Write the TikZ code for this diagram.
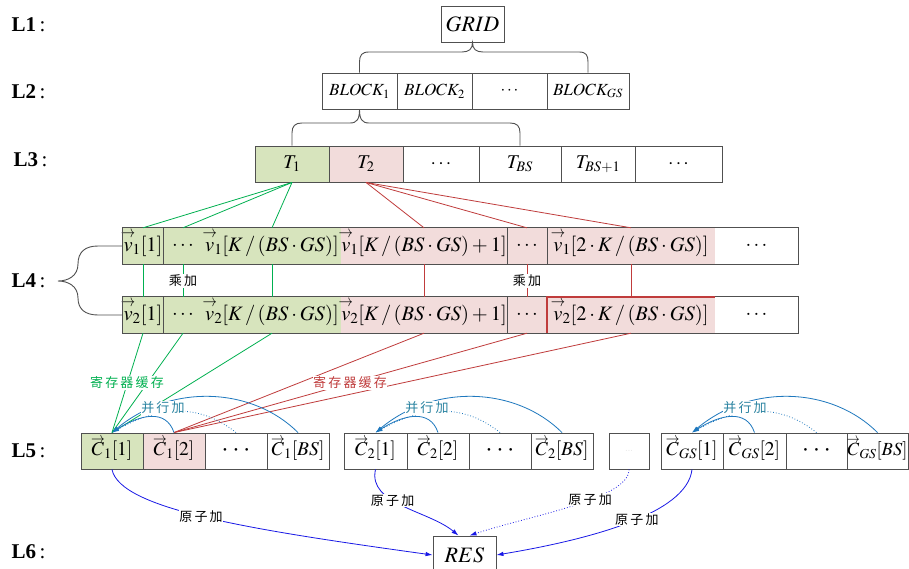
\documentclass[tikz,border=0pt]{standalone}
\usepackage{graphicx}
\usepackage{mathptmx}
\usepackage[no-math]{fontspec}
\setmainfont{Liberation Serif}
\newfontfamily\cjk{Noto Sans CJK SC}
\usetikzlibrary{arrows.meta}
\definecolor{gfill}{RGB}{215,228,189}
\definecolor{pfill}{RGB}{242,220,219}
\definecolor{bordc}{RGB}{80,80,80}
\definecolor{gline}{RGB}{0,176,80}
\definecolor{rline}{RGB}{192,60,60}
\definecolor{parc}{RGB}{30,120,190}
\definecolor{partc}{RGB}{40,130,160}
\definecolor{atomc}{RGB}{25,25,230}
\newcommand\vvec[1]{\mbox{\ooalign{$#1$\cr\hidewidth\raisebox{0.66em}{\resizebox{0.7em}{0.3em}{$\rightarrow$}}\hidewidth\cr}}}
\newcommand\fsz[1]{\fontsize{#1}{#1}\selectfont}
\tikzset{
  bord/.style={draw=bordc, line width=0.9pt},
  box/.style={bord, inner sep=0pt, minimum height=36pt, font=\fsz{19.5}},
  cell/.style={inner sep=0pt, minimum height=36pt, font=\fsz{20.5}},
  w/.style={minimum width=#1pt},
  lvl/.style={anchor=west, font=\fsz{21}},
  gl/.style={draw=gline, line width=0.8pt},
  rl/.style={draw=rline, line width=0.8pt},
  brace/.style={draw=bordc, line width=0.9pt},
  par/.style={draw=parc, line width=0.8pt, -{Latex[length=7pt,width=4pt]}},
  pardot/.style={par, dotted},
  atom/.style={draw=atomc, line width=0.8pt, -{Latex[length=7pt,width=4.5pt]}},
  atomdot/.style={atom, dotted},
  cjklab/.style={font=\cjk\fsz{13}, fill=white, inner sep=0.6pt},
}
\newcommand\dotsrow{{\fsz{11}\textbullet\hspace{7pt}\textbullet\hspace{7pt}\textbullet}}
\begin{document}
\begin{tikzpicture}[x=1pt,y=-1pt]
\useasboundingbox[fill=white] (0,0) rectangle (909,568);

% level labels
\node[lvl] (l1) at (8,25) {\textbf{L1}\,:};
\node[lvl] (l2) at (8,92) {\textbf{L2}\,:};
\node[lvl] (l3) at (10,160) {\textbf{L3}\,:};
\node[lvl] (l4) at (8,281) {\textbf{L4}\,:};
\node[lvl] (l5) at (8,451) {\textbf{L5}\,:};
\node[lvl] (l6) at (8,552) {\textbf{L6}\,:};

% L1
\node[box, w=63, font=\fsz{22}] (grid) at (472.5,24) {$GRID$};

% L2
\node[box, w=75, font=\fsz{17}] (b1) at (359.5,91) {$BLOCK_1$};
\node[box, w=75, font=\fsz{17}] (b2) at (434.5,91) {$BLOCK_2$};
\node[box, w=75, font=\fsz{17}] (b3) at (509.5,91) {$\cdots$};
\node[box, w=82, font=\fsz{17}] (b4) at (588,91) {$BLOCK_{GS}$};

% L3
\node[box, w=74, fill=gfill] (t1) at (292,164) {$T_1$};
\node[box, w=74, fill=pfill] (t2) at (366,164) {$T_2$};
\node[box, w=76] (t3) at (441,164) {$\cdots$};
\node[box, w=82] (t4) at (520,164) {$T_{BS}$};
\node[box, w=74] (t5) at (598,164) {$T_{BS+1}$};
\node[box, w=87] (t6) at (678.5,164) {$\cdots$};

% braces L1-L2, L2-L3
\draw[brace] (b1.north) -- (359.5,62) .. controls (359.5,55) and (362,52) .. (369,52) -- (462,52)
  .. controls (469,52) and (472.5,49) .. (grid.south)
  .. controls (472.5,49) and (476,52) .. (483,52) -- (579,52)
  .. controls (586,52) and (588,55) .. (588,62) -- (b4.north);
\draw[brace] (t1.north) -- (292,133) .. controls (292,126) and (295,123) .. (302,123) -- (350,123)
  .. controls (357,123) and (359.5,119) .. (b1.south)
  .. controls (359.5,119) and (362,123) .. (369,123) -- (510,123)
  .. controls (517,123) and (520,126) .. (520,133) -- (t4.north);

% L4 rows
\foreach \r/\y/\n in {a/246/1, b/315/2}{
  \node[cell, w=40, fill=gfill] (p1\r) at (143,\y) {$\vvec{v}_\n[1]$};
  \node[cell, w=40, fill=gfill] (p2\r) at (183,\y) {$\cdots$};
  \node[cell, w=138, fill=gfill] (p3\r) at (272,\y) {$\vvec{v}_\n[K\,/\,(BS\cdot GS)]$};
  \node[cell, w=166, fill=pfill] (p4\r) at (424,\y) {$\vvec{v}_\n[K\,/\,(BS\cdot GS)+1]$};
  \node[cell, w=40, fill=pfill] (p5\r) at (527,\y) {$\cdots$};
  \node[cell, w=168, fill=pfill] (p6\r) at (631,\y) {$\vvec{v}_\n[2\cdot K\,/\,(BS\cdot GS)]$};
  \node[cell, w=83] (p7\r) at (756.5,\y) {$\cdots$};
  \draw[bord] (p1\r.north west) rectangle (p7\r.south east);
  \draw[bord] (p1\r.north east) -- (p1\r.south east);
  \draw[bord] (p4\r.north east) -- (p4\r.south east);
  \draw[bord] (p5\r.north east) -- (p5\r.south east);
}
\draw[draw=rline, line width=1.6pt] (p6b.south west) -- (p6b.north west) -- (p6b.north east);

% L4 brace
\coordinate (l4tip) at (58,281);
\draw[brace] (p1a.west) -- (98,246) .. controls (85,246) and (78,252) .. (78,264)
  .. controls (78,276) and (68,281) .. (l4tip)
  .. controls (68,281) and (78,286) .. (78,298)
  .. controls (78,309) and (85,315) .. (98,315) -- (p1b.west);

% L5
\node[box, w=62, fill=gfill] (c11) at (112,451) {$\vvec{C}_1[1]$};
\node[box, w=62, fill=pfill] (c12) at (174,451) {$\vvec{C}_1[2]$};
\node[box, w=62] (c13) at (236,451) {\dotsrow};
\node[box, w=62] (c14) at (298,451) {$\vvec{C}_1[BS]$};

\node[box, w=63] (c21) at (375.5,451) {$\vvec{C}_2[1]$};
\node[box, w=62] (c22) at (438,451) {$\vvec{C}_2[2]$};
\node[box, w=62] (c23) at (500,451) {\dotsrow};
\node[box, w=62] (c24) at (562,451) {$\vvec{C}_2[BS]$};

\node[box, w=40, text=gray!60, font=\fsz{7}] (sm) at (629,451) {$\cdots$};

\node[box, w=62] (cg1) at (692,451) {$\vvec{C}_{GS}[1]$};
\node[box, w=63] (cg2) at (754.5,451) {$\vvec{C}_{GS}[2]$};
\node[box, w=61] (cg3) at (816.5,451) {\dotsrow};
\node[box, w=61, font=\fsz{18.5}] (cg4) at (877.5,451) {$\vvec{C}_{GS}[BS]$};

% L6
\node[box, w=63, minimum height=38pt, font=\fsz{22}] (res) at (464.5,555) {$RES$};

% T -> L4
\draw[gl] (t1.south) -- (p1a.north);
\draw[gl] (t1.south) -- (p2a.north);
\draw[gl] (t1.south) -- (p3a.north);
\draw[rl] (t2.south) -- (p4a.north);
\draw[rl] (t2.south) -- (p5a.north);
\draw[rl] (t2.south) -- (p6a.north);
% row1 -> row2
\draw[gl] (p1a.south) -- (p1b.north);
\draw[gl] (p2a.south) -- (p2b.north);
\draw[gl] (p3a.south) -- (p3b.north);
\draw[rl] (p4a.south) -- (p4b.north);
\draw[rl] (p5a.south) -- (p5b.north);
\draw[rl] (p6a.south) -- (p6b.north);
\node[cjklab] (mul1) at (183,281) {乘\,加};
\node[cjklab] (mul2) at (527,281) {乘\,加};
% row2 -> L5
\draw[gl] (p1b.south) -- (c11.north);
\draw[gl] (p2b.south) -- (c11.north);
\draw[gl] (p3b.south) -- (c11.north);
\draw[rl] (p4b.south) -- (c12.north);
\draw[rl] (p5b.south) -- (c12.north);
\draw[rl] (p6b.south) -- (c12.north);
\node[cjklab, text=gline] (reg1) at (127,383) {寄\,存\,器\,缓\,存};
\node[cjklab, text=rline] (reg2) at (350,383) {寄\,存\,器\,缓\,存};

% parallel add
\foreach \g/\lx in {1/163, 2/427, g/745}{
  \draw[par] (c\g2.north) .. controls +(-8,-24) and +(28,-18) .. (c\g1.north);
  \draw[pardot] (c\g3.north) .. controls +(-35,-28) and +(50,-28) .. (c\g1.north);
  \draw[par] (c\g4.north) .. controls +(-45,-45) and +(60,-50) .. (c\g1.north);
  \node[cjklab, text=partc] (pl\g) at (\lx,408) {并\,行\,加};
}

% atomic add
\draw[atom] (c11.south) .. controls +(8,40) and +(-180,-25) .. (res.west)
  node[cjklab, pos=0.48] (a1) {原\,子\,加};
\draw[atom] (c21.south) .. controls +(-8,35) and +(-30,-25) .. ([xshift=-6pt]res.north)
  node[cjklab, pos=0.4] (a2) {原\,子\,加};
\draw[atomdot] (sm.south) .. controls +(0,30) and +(60,-20) .. ([xshift=5pt]res.north)
  node[cjklab, pos=0.4] (a3) {原\,子\,加};
\draw[atom] (cg1.south) .. controls +(-5,45) and +(90,-15) .. (res.east)
  node[cjklab, pos=0.45] (a4) {原\,子\,加};
\end{tikzpicture}
\end{document}
